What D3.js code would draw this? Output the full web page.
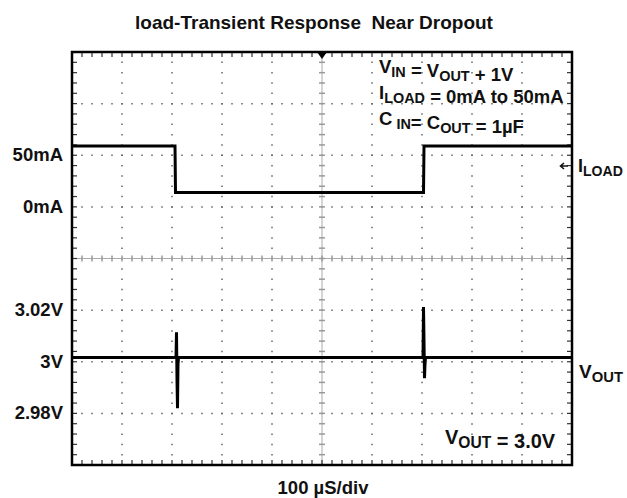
<!DOCTYPE html>
<html>
<head>
<meta charset="utf-8">
<script src="https://cdn.jsdelivr.net/npm/d3@7"></script>
<style>
  body { margin: 0; background: #fff; }
  text { font-family: "Liberation Sans", Arial, sans-serif; font-weight: bold; fill: #111; }
</style>
</head>
<body>
<script>
// time in microseconds (100 us/div), current in mA, voltage in V
let loadTime = [0, 206, 207, 703, 704, 1000];
let loadCurrent = [59, 59, 14, 14, 59, 59];

let voutTime = [0, 208, 209, 210, 211, 212, 213, 702, 703, 704, 705, 706, 707, 1000];
let voutVolts = [3.0016, 3.0016, 3.0114, 2.9930, 2.9820, 2.9990, 3.0016,
                 3.0016, 3.0212, 3.0080, 2.9936, 2.9990, 3.0016, 3.0016];

let currentTicks = ["50mA", "0mA"];
let currentTickValues = [50, 0];
let voltTicks = ["3.02V", "3V", "2.98V"];
let voltTickValues = [3.02, 3.0, 2.98];

let SvgWidth = 627;
let SvgHeight = 498;

let Svg = d3.select("body")
    .append("svg")
    .attr("width", SvgWidth)
    .attr("height", SvgHeight)

let Frame = { Left: 72, Right: 572, Top: 52, Bottom: 465 }

// divisions on screen: 10 across, 8 down
let xDiv = d3.scaleLinear().domain([0, 10]).range([Frame.Left, Frame.Right]);
let yDiv = d3.scaleLinear().domain([0, 8]).range([Frame.Bottom, Frame.Top]);
let xTime = d3.scaleLinear().domain([0, 1000]).range([Frame.Left, Frame.Right]);
// 50 mA/div, 0mA at div 5 ; 20 mV/div, 3V at div 2
let yCurrent = d3.scaleLinear().domain([0, 50]).range([yDiv(5), yDiv(6)]);
let yVolt = d3.scaleLinear().domain([3.0, 3.02]).range([yDiv(2), yDiv(3)]);

// title
Svg.append("text")
    .attr("x", 314).attr("y", 29)
    .attr("text-anchor", "middle")
    .attr("font-size", 19)
    .attr("xml:space", "preserve")
    .text("load-Transient Response  Near Dropout");

let Grid = Svg.append("g");

// dotted grid
d3.range(1, 10).filter(d => d != 5).forEach(function (d) {
    Grid.append("line")
        .attr("x1", xDiv(d)).attr("x2", xDiv(d))
        .attr("y1", Frame.Top).attr("y2", Frame.Bottom)
        .attr("stroke", "#666").attr("stroke-width", 1.5)
        .attr("stroke-dasharray", "1.5,8.83")
        .attr("stroke-dashoffset", 0.75);
});
d3.range(1, 8).filter(d => d != 4).forEach(function (d) {
    Grid.append("line")
        .attr("x1", Frame.Left).attr("x2", Frame.Right)
        .attr("y1", yDiv(d)).attr("y2", yDiv(d))
        .attr("stroke", "#666").attr("stroke-width", 1.5)
        .attr("stroke-dasharray", "1.5,8.5")
        .attr("stroke-dashoffset", 0.75);
});

// centre cross with minor ticks
Grid.append("line")
    .attr("x1", xDiv(5)).attr("x2", xDiv(5))
    .attr("y1", Frame.Top).attr("y2", Frame.Bottom)
    .attr("stroke", "#aaa").attr("stroke-width", 1);
Grid.append("line")
    .attr("x1", Frame.Left).attr("x2", Frame.Right)
    .attr("y1", yDiv(4)).attr("y2", yDiv(4))
    .attr("stroke", "#aaa").attr("stroke-width", 1);

d3.range(1, 50).forEach(function (i) {
    let x = xDiv(i / 5);
    Grid.append("line").attr("x1", x).attr("x2", x)
        .attr("y1", yDiv(4) - 3).attr("y2", yDiv(4) + 3)
        .attr("stroke", "#999").attr("stroke-width", 1.5);
    Grid.append("line").attr("x1", x).attr("x2", x)
        .attr("y1", Frame.Top).attr("y2", Frame.Top + 5)
        .attr("stroke", "#333").attr("stroke-width", 1.2);
    Grid.append("line").attr("x1", x).attr("x2", x)
        .attr("y1", Frame.Bottom).attr("y2", Frame.Bottom - 5)
        .attr("stroke", "#333").attr("stroke-width", 1.2);
});
d3.range(1, 40).forEach(function (i) {
    let y = yDiv(i / 5);
    Grid.append("line").attr("y1", y).attr("y2", y)
        .attr("x1", xDiv(5) - 3).attr("x2", xDiv(5) + 3)
        .attr("stroke", "#999").attr("stroke-width", 1.5);
    Grid.append("line").attr("y1", y).attr("y2", y)
        .attr("x1", Frame.Left).attr("x2", Frame.Left + 5)
        .attr("stroke", "#333").attr("stroke-width", 1.2);
    Grid.append("line").attr("y1", y).attr("y2", y)
        .attr("x1", Frame.Right).attr("x2", Frame.Right - 5)
        .attr("stroke", "#333").attr("stroke-width", 1.2);
});

// frame
Svg.append("rect")
    .attr("x", Frame.Left).attr("y", Frame.Top)
    .attr("width", Frame.Right - Frame.Left)
    .attr("height", Frame.Bottom - Frame.Top)
    .attr("fill", "none")
    .attr("stroke", "#000").attr("stroke-width", 2.5);

// trigger marker
Svg.append("path")
    .attr("d", `M${xDiv(5) - 5},${Frame.Top} L${xDiv(5) + 5},${Frame.Top} L${xDiv(5)},${Frame.Top + 7} Z`)
    .attr("fill", "#000");

// traces
let loadLine = d3.line()
    .x((d, i) => xTime(loadTime[i]))
    .y(d => yCurrent(d));
Svg.append("path")
    .datum(loadCurrent)
    .attr("d", loadLine)
    .attr("fill", "none")
    .attr("stroke", "#000").attr("stroke-width", 3);

let voutLine = d3.line()
    .x((d, i) => xTime(voutTime[i]))
    .y(d => yVolt(d));
Svg.append("path")
    .datum(voutVolts)
    .attr("d", voutLine)
    .attr("fill", "none")
    .attr("stroke", "#000").attr("stroke-width", 3)
    .attr("stroke-linejoin", "miter").attr("stroke-miterlimit", 1);

// left labels
Svg.selectAll(".cur")
    .data(currentTicks)
    .enter()
    .append("text")
    .attr("x", 63)
    .attr("y", (d, i) => yCurrent(currentTickValues[i]) + 6)
    .attr("text-anchor", "end")
    .attr("font-size", 18.5)
    .text(d => d);

Svg.selectAll(".volt")
    .data(voltTicks)
    .enter()
    .append("text")
    .attr("x", 63)
    .attr("y", (d, i) => yVolt(voltTickValues[i]) + 6)
    .attr("text-anchor", "end")
    .attr("font-size", 18.5)
    .text(d => d);

// annotations with subscripts
function subText(x, y, size, parts) {
    let t = Svg.append("text").attr("x", x).attr("y", y).attr("font-size", size)
        .attr("xml:space", "preserve");
    parts.forEach(function (p) {
        if (p.sub) {
            t.append("tspan").attr("font-size", size * 0.78).attr("dy", 4).text(p.sub);
            t.append("tspan").attr("dy", -4).text("");
        } else {
            t.append("tspan").text(p.t);
        }
    });
    return t;
}

subText(379, 73, 18.5, [{ t: "V" }, { sub: "IN" }, { t: " = V" }, { sub: "OUT" }, { t: " + 1V" }]);
subText(379, 99, 18.5, [{ t: "I" }, { sub: "LOAD" }, { t: " = 0mA to 50mA" }]);
subText(379, 125, 18.5, [{ t: "C" }, { sub: " IN" }, { t: "= C" }, { sub: "OUT" }, { t: " = 1\u00b5F" }]);

// small arrow pointing at the current trace's channel
Svg.append("path")
    .attr("d", "M568,166 L561,166 M564,163 L560.5,166 L564,169")
    .attr("fill", "none")
    .attr("stroke", "#111").attr("stroke-width", 1.6);
subText(578, 172, 18, [{ t: "I" }, { sub: "LOAD" }]);
subText(579, 378, 19, [{ t: "V" }, { sub: "OUT" }]);
subText(445, 444, 20, [{ t: "V" }, { sub: "OUT" }, { t: " = 3.0V" }]);

Svg.append("text")
    .attr("x", 323).attr("y", 494)
    .attr("text-anchor", "middle")
    .attr("font-size", 18.5)
    .text("100 \u00b5S/div");
</script>
</body>
</html>
